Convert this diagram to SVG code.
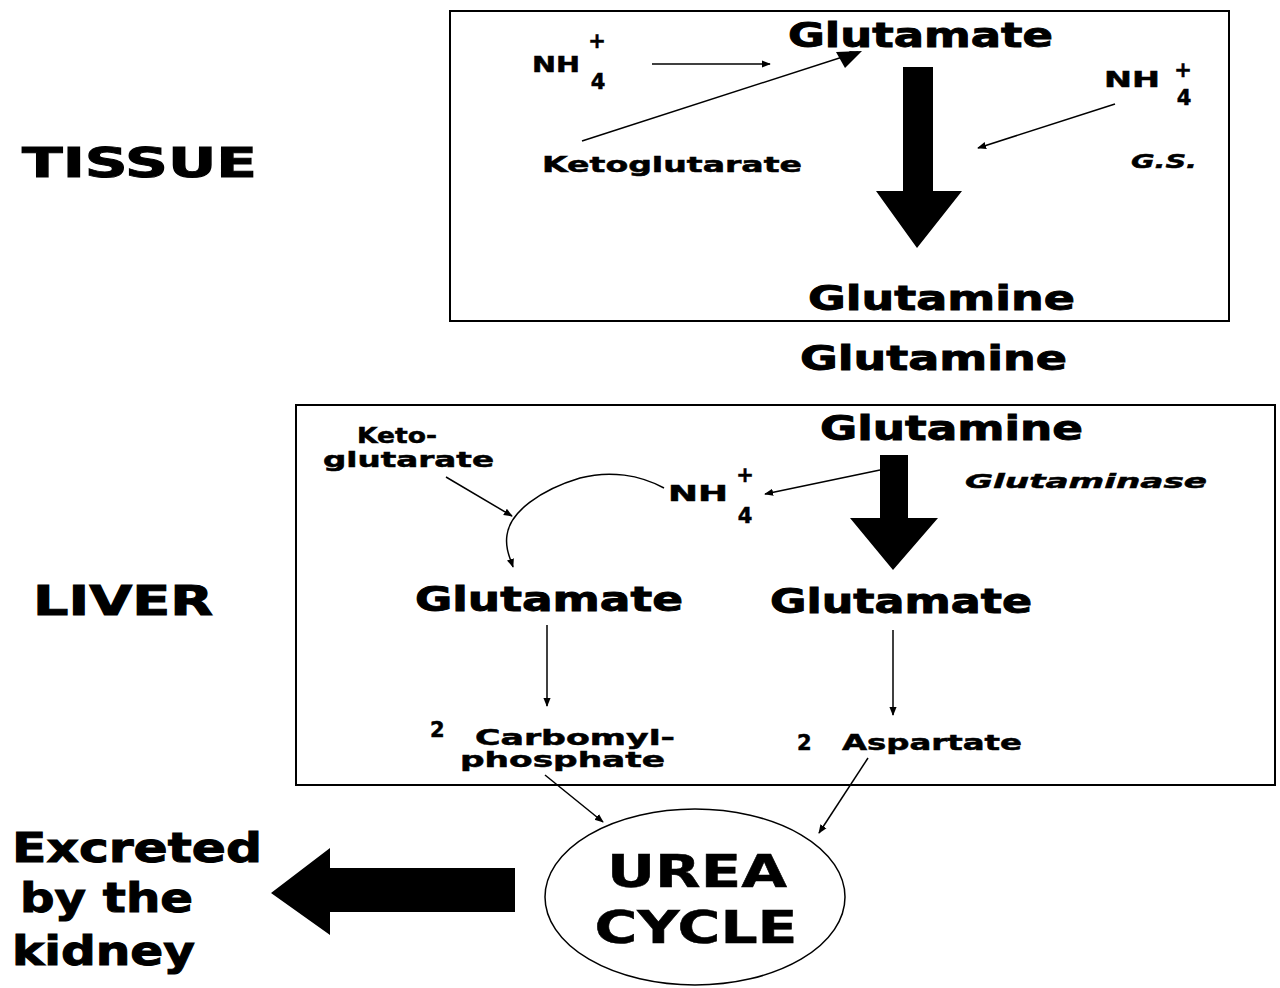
<svg xmlns="http://www.w3.org/2000/svg" width="1280" height="988" viewBox="0 0 1280 988">
<style>
text{font-family:"DejaVu Sans","Liberation Sans",sans-serif;font-weight:bold;fill:#000;stroke:#000;stroke-width:0.5}
.big{font-size:34px;stroke-width:0.9}
.mid{font-size:21px}
.lab{font-size:40px;stroke-width:1}
.it{font-style:italic;font-weight:bold;font-size:20px}
.box{fill:none;stroke:#000;stroke-width:2}
.thin{fill:none;stroke:#000;stroke-width:1.5;marker-end:url(#ah)}
</style>
<defs>
<marker id="ah" viewBox="0 0 10 10" refX="9" refY="5" markerWidth="9" markerHeight="9" markerUnits="userSpaceOnUse" orient="auto">
<path d="M0,1 L10,5 L0,9 z" fill="#000"/>
</marker>
</defs>
<rect width="1280" height="988" fill="#fff"/>

<g id="labels">
<text class="lab" x="22" y="177" textLength="235" lengthAdjust="spacingAndGlyphs">TISSUE</text>
<text class="lab" x="33" y="615" textLength="180" lengthAdjust="spacingAndGlyphs">LIVER</text>
</g>

<g id="tissue-box">
<rect class="box" x="450" y="11" width="779" height="310"/>
<text class="big" x="788" y="47" textLength="265" lengthAdjust="spacingAndGlyphs">Glutamate</text>
<text class="mid" x="532" y="72" textLength="48" lengthAdjust="spacingAndGlyphs">NH</text>
<text class="mid" x="597" y="48" text-anchor="middle">+</text>
<text class="mid" x="598" y="89" text-anchor="middle">4</text>
<text class="mid" x="542" y="172" font-size="20" textLength="260" lengthAdjust="spacingAndGlyphs">Ketoglutarate</text>
<text class="mid" x="1104" y="87" textLength="56" lengthAdjust="spacingAndGlyphs">NH</text>
<text class="mid" x="1183" y="77" text-anchor="middle">+</text>
<text class="mid" x="1184" y="105" text-anchor="middle">4</text>
<text class="it" x="1131" y="168" textLength="66" lengthAdjust="spacingAndGlyphs">G.S.</text>
<text class="big" x="808" y="310" textLength="267" lengthAdjust="spacingAndGlyphs">Glutamine</text>
</g>

<g id="glutamine-mid">
<text class="big" x="800" y="370" textLength="267" lengthAdjust="spacingAndGlyphs">Glutamine</text>
</g>

<g id="liver-box">
<rect class="box" x="296" y="405" width="979" height="380"/>
<text class="mid" x="357" y="443" font-size="20" textLength="80" lengthAdjust="spacingAndGlyphs">Keto-</text>
<text class="mid" x="323" y="467" font-size="20" textLength="171" lengthAdjust="spacingAndGlyphs">glutarate</text>
<text class="big" x="820" y="440" textLength="263" lengthAdjust="spacingAndGlyphs">Glutamine</text>
<text class="mid" x="668" y="501" textLength="60" lengthAdjust="spacingAndGlyphs">NH</text>
<text class="mid" x="745" y="482" text-anchor="middle">+</text>
<text class="mid" x="745" y="523" text-anchor="middle">4</text>
<text class="it" x="965" y="488" textLength="242" lengthAdjust="spacingAndGlyphs">Glutaminase</text>
<text class="big" x="415" y="611" textLength="268" lengthAdjust="spacingAndGlyphs">Glutamate</text>
<text class="big" x="770" y="613" textLength="262" lengthAdjust="spacingAndGlyphs">Glutamate</text>
<text class="mid" x="430" y="737">2</text>
<text class="mid" x="475" y="745" textLength="200" lengthAdjust="spacingAndGlyphs">Carbomyl-</text>
<text class="mid" x="460" y="767" textLength="205" lengthAdjust="spacingAndGlyphs">phosphate</text>
<text class="mid" x="797" y="750">2</text>
<text class="mid" x="842" y="750" textLength="180" lengthAdjust="spacingAndGlyphs">Aspartate</text>
</g>

<g id="urea-cycle">
<ellipse cx="695" cy="897" rx="150" ry="88" fill="none" stroke="#000" stroke-width="1.5"/>
<text x="697" y="887" font-size="44" stroke-width="1" text-anchor="middle" textLength="180" lengthAdjust="spacingAndGlyphs">UREA</text>
<text x="696" y="943" font-size="44" stroke-width="1" text-anchor="middle" textLength="203" lengthAdjust="spacingAndGlyphs">CYCLE</text>
</g>

<g id="excreted">
<text class="lab" x="12" y="862" font-size="38" textLength="250" lengthAdjust="spacingAndGlyphs">Excreted</text>
<text class="lab" x="20" y="912" font-size="38" textLength="173" lengthAdjust="spacingAndGlyphs">by the</text>
<text class="lab" x="12" y="965" font-size="38" textLength="183" lengthAdjust="spacingAndGlyphs">kidney</text>
</g>

<g id="connectors">
<line class="thin" x1="652" y1="64" x2="770" y2="64"/>
<line class="thin" x1="582" y1="141" x2="858" y2="52"/>
<path d="M862,51 L836,52 L845,68 z" fill="#000"/>
<polygon points="903,67 933,67 933,191 962,191 917,248 876,191 903,191" fill="#000"/>
<line class="thin" x1="1115" y1="104" x2="978" y2="148"/>

<polygon points="880,455 908,455 908,518 938,518 893,570 850,518 880,518" fill="#000"/>
<line class="thin" x1="880" y1="470" x2="765" y2="494"/>
<line class="thin" x1="446" y1="477" x2="512" y2="516"/>
<path class="thin" d="M664,488 C640,475 610,470 580,478 C540,490 510,512 507,535 C505,548 510,558 513,567"/>
<line class="thin" x1="547" y1="625" x2="547" y2="706"/>
<line class="thin" x1="893" y1="630" x2="893" y2="715"/>
<line class="thin" x1="545" y1="775" x2="603" y2="822"/>
<line class="thin" x1="868" y1="758" x2="819" y2="833"/>
<polygon points="515,868 515,912 330,912 330,935 271,893 330,848 330,868" fill="#000"/>
</g>
</svg>
